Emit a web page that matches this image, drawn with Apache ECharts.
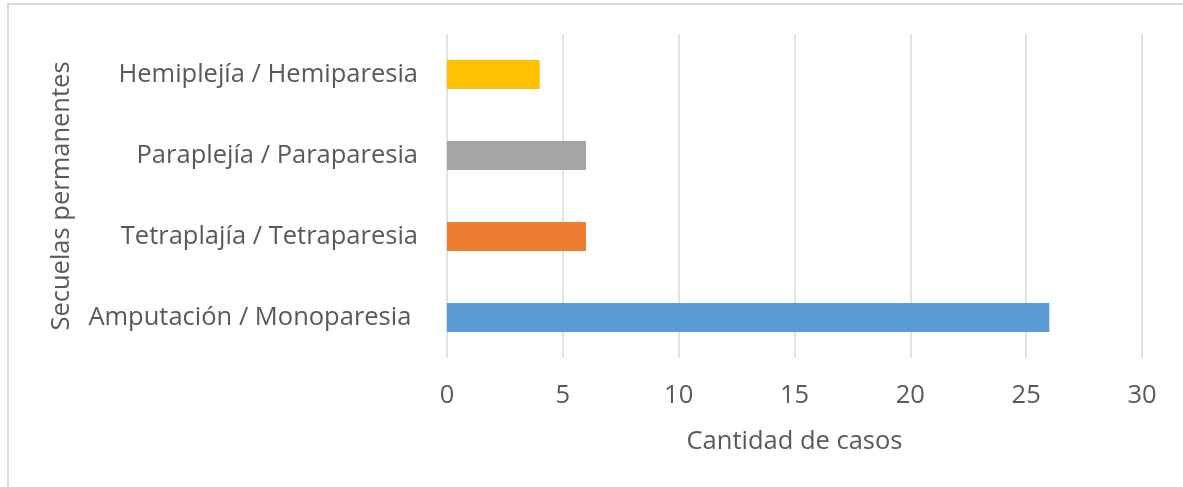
<!DOCTYPE html>
<html><head><meta charset="utf-8">
<script src="https://cdn.jsdelivr.net/npm/echarts@6/dist/echarts.min.js"></script>
<style>html,body{margin:0;padding:0;background:#fff}#c{width:1183px;height:487px}</style>
</head><body><div id="c"></div>
<script>
var categories = ['Amputación / Monoparesia ', 'Tetraplajía / Tetraparesia', 'Paraplejía / Paraparesia', 'Hemiplejía / Hemiparesia'];
var values = [26, 6, 6, 4];
var barColors = ['#5B9BD5', '#ED7D31', '#A5A5A5', '#FFC000'];
var xTicks = [0, 5, 10, 15, 20, 25, 30];
var xTitle = 'Cantidad de casos';
var yTitle = 'Secuelas permanentes';

var font = '"Open Sans", sans-serif';
var fs = 25.5;
var chart = echarts.init(document.getElementById('c'));
chart.setOption({
  animation: false,
  backgroundColor: '#fff',
  graphic: [{type: 'rect', shape: {x: 8, y: 4, width: 1200, height: 520}, style: {fill: 'none', stroke: '#d9d9d9', lineWidth: 2}, silent: true}],
  grid: {left: 447, right: 41, top: 34, bottom: 129},
  xAxis: {
    type: 'value', min: xTicks[0], max: xTicks[xTicks.length - 1], interval: 5,
    axisLine: {show: false}, axisTick: {show: false},
    splitLine: {lineStyle: {color: '#d9d9d9', width: 1.5}},
    axisLabel: {color: '#595959', fontSize: fs, fontFamily: font, margin: 25},
    name: xTitle, nameLocation: 'middle', nameGap: 71,
    nameTextStyle: {color: '#595959', fontSize: fs, fontFamily: font}
  },
  yAxis: {
    type: 'category', data: categories,
    axisLine: {show: false}, axisTick: {show: false},
    axisLabel: {color: '#595959', fontSize: fs, fontFamily: font, margin: 29},
    name: yTitle, nameLocation: 'middle', nameGap: 372, nameRotate: 90,
    nameTextStyle: {color: '#595959', fontSize: fs, fontFamily: font}
  },
  series: [{
    type: 'bar', barWidth: '36%',
    data: values.map(function (v, i) { return {value: v, itemStyle: {color: barColors[i]}}; })
  }]
});
</script></body></html>
